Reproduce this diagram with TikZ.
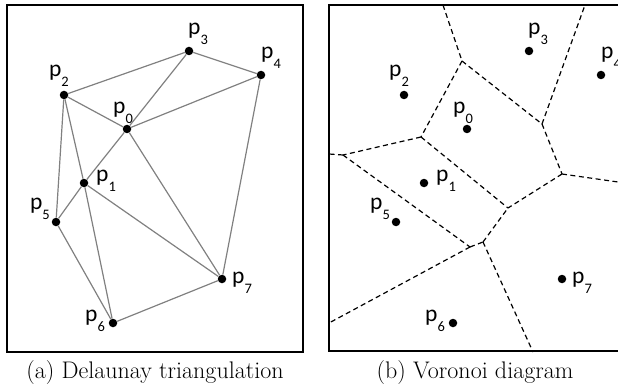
\documentclass[tikz,border=0pt]{standalone}
\usepackage{fontspec}
\newfontfamily\ptfont{Carlito}
\newcommand{\ptlabel}[1]{p\raisebox{-0.42em}{\fontsize{14.5}{14.5}\selectfont #1}}
\begin{document}
\begin{tikzpicture}[
  x=1pt, y=-1pt,
  frame/.style={draw=black, line width=1.3pt},
  dot/.style={circle, fill=black, inner sep=0pt, minimum size=8.5pt},
  lbl/.style={font=\ptfont\fontsize{23.5}{23.5}\selectfont, inner sep=0pt},
  tri/.style={draw=gray, line width=1.2pt},
  cell/.style={draw=black, line width=1.2pt, dash pattern=on 5pt off 3.5pt},
  caption/.style={font=\fontsize{24}{27}\selectfont, anchor=base},
]
\useasboundingbox (0,0) rectangle (618,385);
\clip (0,0) rectangle (618,385);

% Frames
\draw[frame] (7,5) rectangle (303,352);
\draw[frame] (329,5) rectangle (621,351);

% Sites (left panel and right panel, shifted by 340)
\foreach \i/\px/\py/\dx/\dy in {0/127/129/-4/-16, 1/84/183/22/-2,
    2/64/95/-5/-19, 3/189/51/9/-17, 4/261/75/10/-17, 5/56/222/-16/-13,
    6/113/323/-18/-2, 7/222/279/20/4} {
  \node[dot] (a\i) at (\px,\py) {};
  \node[lbl] (la\i) at (\px+\dx,\py+\dy) {\ptlabel{\i}};
  \node[dot] (b\i) at (\px+340,\py) {};
  \node[lbl] (lb\i) at (\px+340+\dx,\py+\dy) {\ptlabel{\i}};
}

% Delaunay triangulation
\draw[tri] (a2) -- (a3);
\draw[tri] (a3) -- (a4);
\draw[tri] (a3) -- (a0);
\draw[tri] (a0) -- (a4);
\draw[tri] (a2) -- (a0);
\draw[tri] (a2) -- (a5);
\draw[tri] (a2) -- (a1);
\draw[tri] (a0) -- (a1);
\draw[tri] (a1) -- (a5);
\draw[tri] (a1) -- (a6);
\draw[tri] (a5) -- (a6);
\draw[tri] (a1) -- (a7);
\draw[tri] (a0) -- (a7);
\draw[tri] (a4) -- (a7);
\draw[tri] (a6) -- (a7);

% Voronoi vertices
\coordinate (v1) at (462,61);
\coordinate (v2) at (421,137);
\coordinate (v3) at (542,124);
\coordinate (v4) at (562,174);
\coordinate (v5) at (508,208);
\coordinate (v6) at (343,155);
\coordinate (v7) at (470,247);
\coordinate (v8) at (483,242);
% open ends on the frame
\coordinate (e1) at (443,5);
\coordinate (e2) at (585,5);
\coordinate (e3) at (625,183);
\coordinate (e4) at (329,154);
\coordinate (e5) at (329,323);
\coordinate (e6) at (533,352);

% Voronoi edges
\draw[cell] (e1) -- (v1);
\draw[cell] (v1) -- (v2);
\draw[cell] (v1) -- (v3);
\draw[cell] (v3) -- (e2);
\draw[cell] (v3) -- (v4);
\draw[cell] (v4) -- (e3);
\draw[cell] (v4) -- (v5);
\draw[cell] (v2) -- (v5);
\draw[cell] (v2) -- (v6);
\draw[cell] (v6) -- (e4);
\draw[cell] (v6) -- (v7);
\draw[cell] (v7) -- (e5);
\draw[cell] (v7) -- (v8);
\draw[cell] (v8) -- (v5);
\draw[cell] (v8) -- (e6);

% Captions
\node[caption] (capa) at (155,378) {(a) Delaunay triangulation};
\node[caption] (capb) at (475,378) {(b) Voronoi diagram};
\end{tikzpicture}
\end{document}
